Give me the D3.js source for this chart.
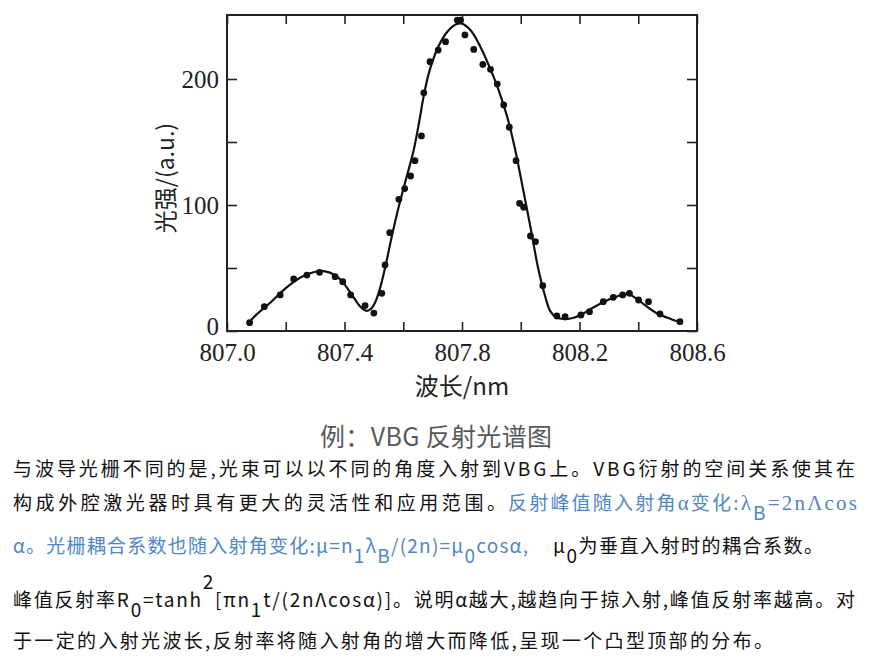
<!DOCTYPE html>
<html>
<head>
<meta charset="utf-8">
<script src="https://cdn.jsdelivr.net/npm/d3@7"></script>
<style>
body { margin: 0; background: #fff; }
svg { display: block; }
</style>
</head>
<body>
<script>
// measured reflection spectrum (dots)
var dotX = [807.077, 807.127, 807.181, 807.227, 807.272, 807.315, 807.368, 807.394, 807.421, 807.470,
    807.500, 807.527, 807.538, 807.554, 807.585, 807.605, 807.625, 807.640, 807.662, 807.670,
    807.691, 807.719, 807.744, 807.784, 807.795, 807.810, 807.840, 807.871, 807.897, 807.920,
    807.942, 807.961, 807.984, 807.996, 808.010, 808.033, 808.050, 808.075, 808.123, 808.151,
    808.205, 808.234, 808.281, 808.315, 808.347, 808.370, 808.401, 808.435, 808.474, 808.542];
var dotY = [6.6, 19.3, 28.6, 41.3, 44.4, 46.6, 43.1, 39.1, 28.6, 20.2,
    14.2, 29.9, 52.4, 78, 104.5, 113, 123, 135.2, 154.8, 189,
    213.7, 223, 229.6, 246.8, 246.8, 235, 223.5, 211.6, 207.7, 196,
    179.4, 161.7, 135.2, 101.3, 98.2, 75.4, 70.9, 36, 11.9, 11.3,
    12.7, 15.3, 23.3, 26.7, 28.6, 29.9, 24.6, 23.3, 13.5, 7.4];

// fitted curve
var fitX = [807.075, 807.10, 807.15, 807.20, 807.25, 807.30, 807.33, 807.37, 807.40, 807.43,
    807.455, 807.475, 807.49, 807.505, 807.52, 807.54, 807.56, 807.585, 807.61, 807.635,
    807.655, 807.67, 807.69, 807.72, 807.75, 807.78, 807.80, 807.83, 807.865, 807.90,
    807.925, 807.955, 807.98, 808.005, 808.035, 808.06, 808.085, 808.10, 808.12, 808.15,
    808.18, 808.21, 808.25, 808.30, 808.35, 808.37, 808.40, 808.46, 808.50, 808.54];
var fitY = [7, 13, 23, 34, 42.5, 47, 47.5, 44, 37, 27,
    19, 16, 17.5, 23, 33, 52, 74, 99, 121, 143,
    167, 187, 207, 226, 237.5, 243.5, 244, 238.5, 224.5, 206,
    191, 169, 145, 116, 80, 49, 26, 16, 11, 9.5,
    10.5, 13.5, 19, 25, 29, 29, 24.5, 14.5, 10.5, 7];

var xTicks = [807.0, 807.2, 807.4, 807.6, 807.8, 808.0, 808.2, 808.4, 808.6];
var xLabels = [807.0, 807.4, 807.8, 808.2, 808.6];
var yTicks = [0, 50, 100, 150, 200];
var yLabels = [0, 100, 200];

var blue = "#4f86c6";
var cjk = "'Noto Sans CJK SC', 'Noto Sans', sans-serif";
var serif = "'Liberation Serif', 'DejaVu Serif', serif";

// text under the chart, one entry per run: [text, baseline shift, font]
var lines = [
    {x: 13, y: 476, len: 842, fill: "#111", runs: [["与波导光栅不同的是,光束可以以不同的角度入射到VBG上。VBG衍射的空间关系使其在"]]},
    {x: 13, y: 510, len: 493, fill: "#111", runs: [["构成外腔激光器时具有更大的灵活性和应用范围。"]]},
    {x: 508, y: 510, len: 349, fill: blue, runs: [["反射峰值随入射角"], ["α", 0, serif], ["变化:"], ["λ", 0, serif], ["B", 10], ["=2nΛcos", 0, serif]]},
    {x: 13, y: 553, len: 515, fill: blue, runs: [["α。光栅耦合系数也随入射角变化:μ=n"], ["1", 10], ["λ"], ["B", 10], ["/(2n)=μ"], ["0", 10], ["cosα,"]]},
    {x: 553, y: 553, len: 270, fill: "#111", runs: [["μ"], ["0", 10], ["为垂直入射时的耦合系数。"]]},
    {x: 13, y: 607, len: 842, fill: "#111", runs: [["峰值反射率R"], ["0", 10], ["=tanh"], ["2", -18], ["[πn"], ["1", 10], ["t/(2nΛcosα)]。说明α越大,越趋向于掠入射,峰值反射率越高。对"]]},
    {x: 13, y: 648, len: 760, fill: "#111", runs: [["于一定的入射光波长,反射率将随入射角的增大而降低,呈现一个凸型顶部的分布。"]]}
];

var width = 877, height = 666;
var plot = {left: 227, right: 697, top: 15, bottom: 331};

var svg = d3.select("body").append("svg")
    .attr("width", width)
    .attr("height", height);

svg.append("rect").attr("width", width).attr("height", height).attr("fill", "#fff");

var x = d3.scaleLinear().domain([807.0, 808.6]).range([plot.left, plot.right]);
var y = d3.scaleLinear().domain([0, 250.8]).range([plot.bottom, plot.top]);

function styleAxis(g) {
    g.select(".domain").remove();
    g.selectAll(".tick line").attr("stroke", "#222").attr("stroke-width", 1.6);
    g.selectAll(".tick text")
        .attr("font-family", serif)
        .attr("font-size", 25)
        .attr("fill", "#222");
}

var fmtX = function (d) { return xLabels.indexOf(d) >= 0 ? d.toFixed(1) : ""; };
var fmtY = function (d) { return yLabels.indexOf(d) >= 0 ? d : ""; };

svg.append("g")
    .attr("transform", "translate(0," + plot.bottom + ")")
    .call(d3.axisBottom(x).tickValues(xTicks).tickSize(-9).tickPadding(12).tickFormat(fmtX))
    .call(styleAxis);

svg.append("g")
    .attr("transform", "translate(0," + plot.top + ")")
    .call(d3.axisTop(x).tickValues(xTicks).tickSize(-9).tickFormat(""))
    .call(styleAxis);

var yAxis = svg.append("g")
    .attr("transform", "translate(" + plot.left + ",0)")
    .call(d3.axisLeft(y).tickValues(yTicks).tickSize(-10).tickPadding(8).tickFormat(fmtY))
    .call(styleAxis);
// the 0 sits a little above the corner, as in the original
yAxis.selectAll(".tick text").filter(function (d) { return d === 0; }).attr("dy", "0.12em");

svg.append("g")
    .attr("transform", "translate(" + plot.right + ",0)")
    .call(d3.axisRight(y).tickValues(yTicks).tickSize(-10).tickFormat(""))
    .call(styleAxis);

svg.append("rect")
    .attr("x", plot.left)
    .attr("y", plot.top)
    .attr("width", plot.right - plot.left)
    .attr("height", plot.bottom - plot.top)
    .attr("fill", "none")
    .attr("stroke", "#222")
    .attr("stroke-width", 2);

// fitted curve
var fit = fitX.map(function (d, i) { return [d, fitY[i]]; });
var line = d3.line()
    .x(function (d) { return x(d[0]); })
    .y(function (d) { return y(d[1]); })
    .curve(d3.curveCatmullRom);

svg.append("path")
    .datum(fit)
    .attr("d", line)
    .attr("fill", "none")
    .attr("stroke", "#111")
    .attr("stroke-width", 2.2);

svg.append("g").selectAll("circle")
    .data(dotX)
    .join("circle")
    .attr("cx", function (d) { return x(d); })
    .attr("cy", function (d, i) { return y(dotY[i]); })
    .attr("r", 3.4)
    .attr("fill", "#111");

// axis titles
svg.append("text")
    .attr("x", 462)
    .attr("y", 395)
    .attr("text-anchor", "middle")
    .attr("font-family", cjk)
    .attr("font-size", 24)
    .attr("fill", "#222")
    .text("波长/nm");

svg.append("text")
    .attr("transform", "translate(174,178) rotate(-90)")
    .attr("text-anchor", "middle")
    .attr("font-family", cjk)
    .attr("font-size", 23)
    .attr("fill", "#222")
    .text("光强/(a.u.)");

// caption
svg.append("text")
    .attr("x", 320)
    .attr("y", 446)
    .attr("textLength", 232)
    .attr("lengthAdjust", "spacing")
    .attr("font-family", cjk)
    .attr("font-size", 25)
    .attr("fill", "#595959")
    .text("例：VBG 反射光谱图");

// paragraph
lines.forEach(function (ln) {
    var t = svg.append("text")
        .attr("x", ln.x)
        .attr("y", ln.y)
        .attr("textLength", ln.len)
        .attr("lengthAdjust", "spacing")
        .attr("font-family", cjk)
        .attr("font-size", 19)
        .attr("fill", ln.fill);
    var prev = 0;
    ln.runs.forEach(function (r) {
        var shift = r[1] || 0;
        t.append("tspan")
            .attr("dy", shift - prev)
            .attr("font-family", r[2] || cjk)
            .attr("font-size", r[2] ? 21 : 19)
            .text(r[0]);
        prev = shift;
    });
});
</script>
</body>
</html>
